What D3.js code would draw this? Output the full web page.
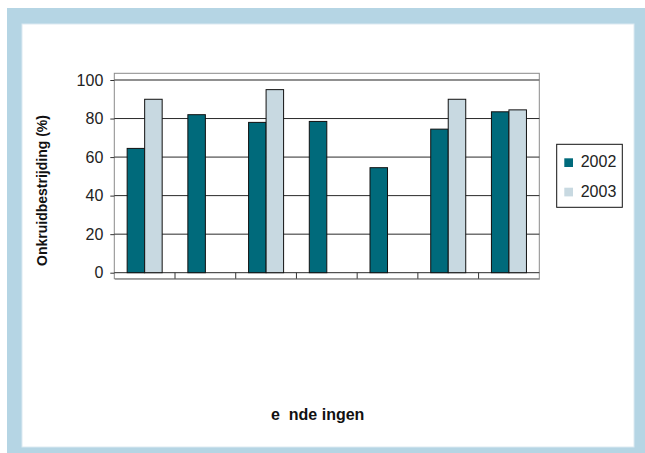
<!DOCTYPE html>
<html>
<head>
<meta charset="utf-8">
<script src="https://cdn.jsdelivr.net/npm/d3@7"></script>
<style>
  html, body { margin: 0; padding: 0; background: #fff; }
  svg { display: block; }
  text { font-family: "Liberation Sans", Arial, sans-serif; }
</style>
</head>
<body>
<div id="chart"></div>
<script>
// Weed control per treatment, two seasons
const categories = ["1", "2", "3", "4", "5", "6", "7"];
const seriesNames = ["2002", "2003"];
const values2002 = [64.5, 82, 78, 78.5, 54.5, 74.5, 83.5];
const values2003 = [90, null, 95, null, null, 90, 84.5];
const yTicks = [0, 20, 40, 60, 80, 100];
const yLabel = "Onkruidbestrijding (%)";
const xLabel = "e  nde ingen";
const colors = ["#006a7b", "#c8d9e1"];

const W = 645, H = 453;
const svg = d3.select("#chart").append("svg").attr("width", W).attr("height", H);

// outer frame
svg.append("rect").attr("x", 7).attr("y", 8).attr("width", W - 7).attr("height", H - 8).attr("fill", "#b5d5e4");
svg.append("rect").attr("x", 22).attr("y", 24).attr("width", 612).attr("height", 423).attr("fill", "#fff")
  .attr("stroke", "#dceaf1").attr("stroke-width", 1);

// plot geometry
const plotLeft = 114.3, plotRight = 539.3, plotTop = 73.3, plotFloor = 278.7;
const y = d3.scaleLinear().domain([0, 100]).range([272.7, 80]);
const x0 = d3.scaleBand().domain(categories).range([plotLeft, plotRight]).padding(0);
const x1 = d3.scaleBand().domain(seriesNames).range([0, x0.bandwidth()]).paddingInner(0).paddingOuter(0.734);

// plot box
svg.append("rect").attr("x", plotLeft).attr("y", plotTop).attr("width", plotRight - plotLeft).attr("height", plotFloor - plotTop)
  .attr("fill", "#fff").attr("stroke", "#8a8a8a").attr("stroke-width", 1);

// gridlines
svg.append("g").selectAll("line").data(yTicks).join("line")
  .attr("x1", plotLeft).attr("x2", plotRight)
  .attr("y1", d => y(d)).attr("y2", d => y(d))
  .attr("stroke", d => d === 100 ? "#6b6b6b" : "#2a2a2a").attr("stroke-width", d => d === 100 ? 1.5 : 1);

// y axis
const yAxis = d3.axisLeft(y).tickValues(yTicks).tickSize(4).tickPadding(7);
const gy = svg.append("g").attr("transform", `translate(${plotLeft},0)`).call(yAxis);
gy.select(".domain").remove();
gy.selectAll(".tick line").attr("stroke", "#333");
gy.selectAll(".tick text").attr("font-size", 16).attr("fill", "#222")
  .attr("font-family", "'Liberation Sans', Arial, sans-serif");

// x axis: category boundaries between zero line and floor
const xAxis = d3.axisBottom(x0).tickSize(0).tickFormat("");
const gx = svg.append("g").attr("transform", `translate(0,${plotFloor})`).call(xAxis);
gx.select(".domain").attr("stroke", "#8a8a8a");
svg.append("g").selectAll("line").data(categories.slice(1)).join("line")
  .attr("x1", d => x0(d)).attr("x2", d => x0(d))
  .attr("y1", y(0)).attr("y2", plotFloor)
  .attr("stroke", "#333");

// bars
const rows = categories.map((c, i) => ({ cat: c, vals: [values2002[i], values2003[i]] }));
const groups = svg.append("g").selectAll("g").data(rows).join("g")
  .attr("transform", d => `translate(${x0(d.cat)},0)`);
groups.selectAll("rect")
  .data(d => d.vals.map((v, j) => ({ key: seriesNames[j], v, j })).filter(e => e.v != null))
  .join("rect")
  .attr("x", d => x1(d.key))
  .attr("width", x1.bandwidth())
  .attr("y", d => y(d.v))
  .attr("height", d => y(0) - y(d.v))
  .attr("fill", d => colors[d.j])
  .attr("stroke", "#111").attr("stroke-width", 1);

// legend
const lg = svg.append("g");
lg.append("rect").attr("x", 556.7).attr("y", 144.3).attr("width", 65.6).attr("height", 63)
  .attr("fill", "#fff").attr("stroke", "#111").attr("stroke-width", 1);
seriesNames.forEach((s, i) => {
  const yy = 167.3 + i * 29.4;
  lg.append("rect").attr("x", 564.3).attr("y", yy - 9).attr("width", 8.7).attr("height", 8.7).attr("fill", colors[i]);
  lg.append("text").attr("x", 580.7).attr("y", yy).attr("font-size", 16).attr("fill", "#222").text(s);
});

// axis titles
svg.append("text")
  .attr("transform", "translate(47,190.5) rotate(-90)")
  .attr("text-anchor", "middle").attr("font-size", 14).attr("font-weight", "bold").attr("fill", "#111")
  .text(yLabel);
svg.append("text")
  .attr("x", 317.7).attr("y", 420)
  .attr("text-anchor", "middle").attr("font-size", 16).attr("font-weight", "bold").attr("fill", "#111")
  .style("white-space", "pre")
  .style("font-family", "'Liberation Sans Narrow', 'Arial Narrow', 'Liberation Sans', sans-serif")
  .text(xLabel);
</script>
</body>
</html>
